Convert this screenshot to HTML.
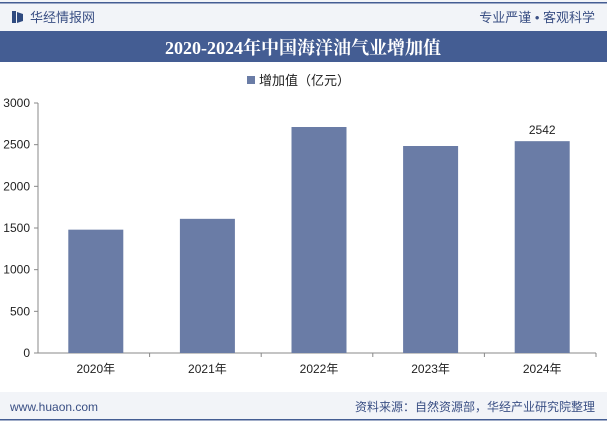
<!DOCTYPE html>
<html><head><meta charset="utf-8"><style>
body{margin:0;width:607px;height:423px;overflow:hidden;background:#fff;font-family:"Liberation Sans","Noto Sans CJK SC",sans-serif;}
</style></head><body>
<svg width="607" height="423" xmlns="http://www.w3.org/2000/svg">
<rect x="0" y="0" width="607" height="31" fill="#f2f4f8"/>
<rect x="0" y="2" width="607" height="1.5" fill="#445d93"/>
<rect x="12" y="11" width="4" height="12" fill="#2f4a80"/>
<path d="M17 12 L23 14 L23 21 L17 23Z" fill="#2f4a80"/>
<text x="30" y="22" font-size="13" fill="#3a4f84" font-family="Liberation Sans,Noto Sans CJK SC,sans-serif">华经情报网</text>
<text x="595" y="22" font-size="13" fill="#3a4f84" text-anchor="end" font-family="Liberation Sans,Noto Sans CJK SC,sans-serif">专业严谨 • 客观科学</text>
<rect x="0" y="31" width="607" height="31" fill="#445d93"/>
<text x="303" y="54" font-size="18" font-weight="bold" fill="#fff" text-anchor="middle" font-family="Liberation Serif,Noto Serif CJK SC,serif">2020-2024年中国海洋油气业增加值</text>
<rect x="247" y="76" width="8" height="8" fill="#6a7ca6"/>
<text x="259" y="85" font-size="13" fill="#222">增加值（亿元）</text>
<g id="plot"></g>
<rect x="0" y="392" width="607" height="28" fill="#f2f4f8"/>
<rect x="0" y="419" width="607" height="1.5" fill="#445d93"/>
<text x="10" y="411" font-size="12" fill="#3a4f84">www.huaon.com</text>
<text x="595" y="411" font-size="12" fill="#3a4f84" text-anchor="end">资料来源：自然资源部，华经产业研究院整理</text>
</svg>
<script>
const categories=["2020年","2021年","2022年","2023年","2024年"];
const values=[1480,1610,2712,2484,2542];
const labelShown=[false,false,false,false,true];
const yTicks=[0,500,1000,1500,2000,2500,3000];
const NS="http://www.w3.org/2000/svg";
const g=document.getElementById('plot');
const x0=38,x1=596,y0=353,y1=103,yMax=3000;
const bw=(x1-x0)/categories.length;
const ys=v=>y0-(v/yMax)*(y0-y1);
function mk(t,a,txt){const e=document.createElementNS(NS,t);for(const k in a)e.setAttribute(k,a[k]);if(txt!=null)e.textContent=txt;g.appendChild(e);return e;}
yTicks.forEach(t=>{
 const e=mk('text',{x:x0-8,y:ys(t)+4,'font-size':12,fill:'#222','text-anchor':'end'},t);
 
 
 const l=mk('line',{x1:x0-4,x2:x0,y1:ys(t),y2:ys(t),stroke:'#888'});
 
 
});
const ya=mk('line',{x1:x0,x2:x0,y1:y1,y2:y0,stroke:'#888'});


const xa=mk('line',{x1:x0,x2:x1,y1:y0,y2:y0,stroke:'#888'});


categories.forEach((c,i)=>{
 const cx=x0+bw*(i+0.5)+2;
 const r=mk('rect',{x:cx-27.5,y:ys(values[i]),width:55,height:y0-ys(values[i]),fill:'#6a7ca6'});
 
 
 const t=mk('text',{x:cx,y:y0+20,'font-size':12,fill:'#222','text-anchor':'middle'},c);
 
 
 const tk=mk('line',{x1:x0+bw*(i+1),x2:x0+bw*(i+1),y1:y0,y2:y0+4,stroke:'#888'});
 
 
 if(labelShown[i]){
  const v=mk('text',{x:cx,y:ys(values[i])-7,'font-size':12,fill:'#222','text-anchor':'middle'},values[i]);
  
  
 }
});
</script>
</body></html>
